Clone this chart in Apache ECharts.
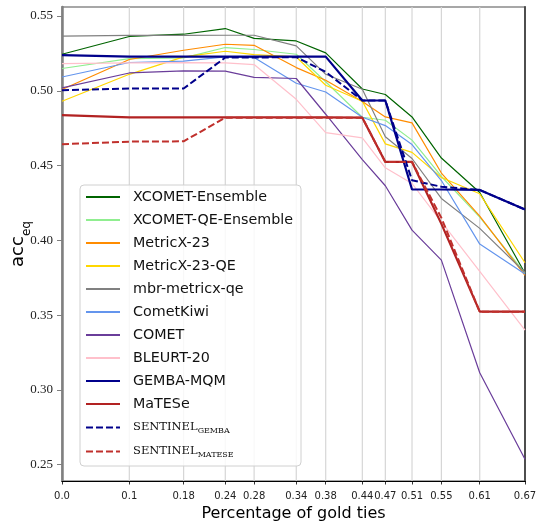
<!DOCTYPE html>
<html>
<head>
<meta charset="utf-8">
<script src="https://cdn.jsdelivr.net/npm/echarts@6/dist/echarts.min.js"></script>
<style>
  html, body { margin: 0; padding: 0; background: #fff; }
  #chart { width: 537px; height: 528px; }
</style>
</head>
<body>
<div id="chart"></div>
<script>
// Share of gold ties at each evaluation point (x positions) and their printed tick labels
const xValues = [0, 0.0974, 0.176, 0.2363, 0.278, 0.339, 0.3816, 0.4346, 0.4679, 0.5065, 0.549, 0.6045, 0.67];
const xTickLabels = ['0.0', '0.1', '0.18', '0.24', '0.28', '0.34', '0.38', '0.44', '0.47', '0.51', '0.55', '0.61', '0.67'];
const yTickValues = [0.25, 0.30, 0.35, 0.40, 0.45, 0.50, 0.55];
const yMin = 0.2391;
const yMax = 0.556;

// acc_eq per metric
const xcometEnsemble   = [0.5244, 0.5363, 0.5378, 0.5416, 0.5350, 0.5333, 0.5253, 0.5012, 0.4975, 0.4825, 0.4550, 0.4320, 0.3780];
const xcometQeEnsemble = [0.5149, 0.5215, 0.5220, 0.5289, 0.5276, 0.5244, 0.5060, 0.4823, 0.4803, 0.4670, 0.4427, 0.4155, 0.3780];
const metricx23        = [0.5008, 0.5209, 0.5271, 0.5311, 0.5304, 0.5155, 0.5070, 0.4928, 0.4825, 0.4785, 0.4450, 0.4162, 0.3765];
const metricx23Qe      = [0.4930, 0.5110, 0.5227, 0.5264, 0.5242, 0.5226, 0.5037, 0.4930, 0.4645, 0.4588, 0.4420, 0.4311, 0.3850];
const mbrMetricxQe     = [0.5365, 0.5370, 0.5370, 0.5371, 0.5371, 0.5300, 0.5110, 0.5010, 0.4692, 0.4547, 0.4280, 0.4080, 0.3785];
const cometKiwi        = [0.5092, 0.5189, 0.5198, 0.5226, 0.5222, 0.5050, 0.4992, 0.4823, 0.4767, 0.4640, 0.4400, 0.3975, 0.3775];
const comet            = [0.5019, 0.5119, 0.5133, 0.5131, 0.5090, 0.5082, 0.4843, 0.4540, 0.4365, 0.4068, 0.3868, 0.3115, 0.2536];
const bleurt20         = [0.5182, 0.5186, 0.5188, 0.5186, 0.5175, 0.4943, 0.4720, 0.4685, 0.4485, 0.4380, 0.4124, 0.3792, 0.3400];
const gembaMqm         = [0.5238, 0.5228, 0.5228, 0.5228, 0.5228, 0.5228, 0.5228, 0.4935, 0.4935, 0.4340, 0.4340, 0.4337, 0.4206];
const matese           = [0.4837, 0.4822, 0.4822, 0.4822, 0.4822, 0.4822, 0.4822, 0.4820, 0.4524, 0.4524, 0.4110, 0.3523, 0.3523];
const sentinelGemba    = [0.5004, 0.5015, 0.5015, 0.5222, 0.5222, 0.5225, 0.5126, 0.4935, 0.4935, 0.4402, 0.4358, 0.4337, 0.4206];
const sentinelMatese   = [0.4643, 0.4660, 0.4662, 0.4820, 0.4820, 0.4820, 0.4820, 0.4820, 0.4524, 0.4524, 0.4150, 0.3523, 0.3523];

const SANS = 'DejaVu Sans';
const SERIF = 'DejaVu Serif';

const lines = [
  { name: 'XCOMET-Ensemble',    data: xcometEnsemble,   color: '#006400', width: 1.2 },
  { name: 'XCOMET-QE-Ensemble', data: xcometQeEnsemble, color: '#90ee90', width: 1.2 },
  { name: 'MetricX-23',         data: metricx23,        color: '#ff8c00', width: 1.2 },
  { name: 'MetricX-23-QE',      data: metricx23Qe,      color: '#ffd700', width: 1.2 },
  { name: 'mbr-metricx-qe',     data: mbrMetricxQe,     color: '#808080', width: 1.2 },
  { name: 'CometKiwi',          data: cometKiwi,        color: '#6495ed', width: 1.2 },
  { name: 'COMET',              data: comet,            color: '#6a3d9a', width: 1.2 },
  { name: 'BLEURT-20',          data: bleurt20,         color: '#ffc0cb', width: 1.2 },
  { name: 'GEMBA-MQM',          data: gembaMqm,         color: '#00008b', width: 2.2 },
  { name: 'MaTESe',             data: matese,           color: '#b22222', width: 2.2 },
  { name: 'SENTINEL_GEMBA',     data: sentinelGemba,    color: '#00008b', width: 2, dashed: true },
  { name: 'SENTINEL_MATESE',    data: sentinelMatese,   color: '#c0302c', width: 2, dashed: true }
];

// light vertical grid lines at the interior tick positions, drawn as one custom series
const gridSeries = {
  type: 'custom', silent: true, z: 1, animation: false, clip: false,
  coordinateSystem: 'cartesian2d',
  data: xValues.slice(1, -1).map(x => [x, 0.4]),
  encode: { x: 0, y: 1 },
  renderItem: (params, api) => {
    const top = api.coord([api.value(0), yMax]);
    const bottom = api.coord([api.value(0), yMin]);
    return {
      type: 'line',
      shape: { x1: top[0], y1: top[1], x2: bottom[0], y2: bottom[1] },
      style: { stroke: '#d6d6d6', lineWidth: 1.2, fill: null }
    };
  }
};

const metricSeries = lines.map(s => ({
  name: s.name,
  type: 'line',
  data: xValues.map((x, i) => [x, s.data[i]]),
  symbol: 'none',
  z: 2,
  animation: false,
  lineStyle: { color: s.color, width: s.width, type: s.dashed ? [7, 3] : 'solid' },
  itemStyle: { color: s.color }
}));

const chart = echarts.init(document.getElementById('chart'), null, { renderer: 'canvas' });
chart.setOption({
  animation: false,
  backgroundColor: '#fff',
  grid: {
    left: 62, right: 12, top: 7, bottom: 47,
    show: true, borderColor: '#8a8a8a', borderWidth: 1.5, backgroundColor: 'transparent',
    containLabel: false, outerBoundsMode: 'none'
  },
  xAxis: {
    type: 'value', min: 0, max: 0.67,
    name: 'Percentage of gold ties', nameLocation: 'middle', nameGap: 25, nameMoveOverlap: false,
    nameTextStyle: { fontFamily: SANS, fontSize: 16, color: '#000' },
    axisLine: { show: true, lineStyle: { color: '#000', width: 1.2 } },
    axisTick: { show: true, length: 3.5, customValues: xValues, lineStyle: { color: '#000', width: 0.8 } },
    axisLabel: {
      customValues: xValues, margin: 10, fontFamily: SANS, fontSize: 10, color: '#222',
      formatter: v => {
        let best = 0;
        xValues.forEach((x, i) => { if (Math.abs(x - v) < Math.abs(xValues[best] - v)) best = i; });
        return xTickLabels[best];
      }
    },
    splitLine: { show: false }
  },
  yAxis: [
    {
      type: 'value', min: yMin, max: yMax, position: 'left',
      name: '{a|acc}{s|eq}', nameLocation: 'middle', nameGap: 29, nameRotate: 90, nameMoveOverlap: false,
      nameTextStyle: {
        rich: {
          a: { fontFamily: SANS, fontSize: 18, color: '#000', lineHeight: 18, verticalAlign: 'top' },
          s: { fontFamily: SANS, fontSize: 12, color: '#000', lineHeight: 24, verticalAlign: 'bottom' }
        }
      },
      axisLine: { show: true, lineStyle: { color: '#808080', width: 2.5 } },
      axisTick: { show: true, length: 5, customValues: yTickValues, lineStyle: { color: '#808080', width: 1 } },
      axisLabel: {
        customValues: yTickValues, margin: 9, fontFamily: 'Liberation Serif', fontSize: 13, color: '#222',
        formatter: v => v.toFixed(2)
      },
      splitLine: { show: false }
    },
    {
      type: 'value', min: yMin, max: yMax, position: 'right',
      axisLine: { show: true, lineStyle: { color: '#444', width: 1.8 } },
      axisTick: { show: false }, axisLabel: { show: false }, splitLine: { show: false }
    }
  ],
  legend: {
    orient: 'vertical', left: 80, top: 185, z: 50,
    padding: [5, 8, 7, 5],
    itemWidth: 34, itemHeight: 14, itemGap: 9,
    backgroundColor: 'rgba(255,255,255,0.82)',
    borderColor: '#d0d0d0', borderWidth: 1, borderRadius: 4,
    itemStyle: { opacity: 0 },
    data: lines.map(s => s.name),
    formatter: name => {
      if (name === 'SENTINEL_GEMBA') return '{n|SENTINEL}{s|GEMBA}';
      if (name === 'SENTINEL_MATESE') return '{n|SENTINEL}{s|MATESE}';
      return name;
    },
    textStyle: {
      fontFamily: SANS, fontSize: 14.3, color: '#111', padding: [0, 0, 0, 8],
      rich: {
        n: { fontFamily: SERIF, fontSize: 11.5, color: '#111', lineHeight: 14 },
        s: { fontFamily: SERIF, fontSize: 8, color: '#111', lineHeight: 8, padding: [7, 0, 0, 0] }
      }
    }
  },
  series: [gridSeries].concat(metricSeries)
});
</script>
</body>
</html>
